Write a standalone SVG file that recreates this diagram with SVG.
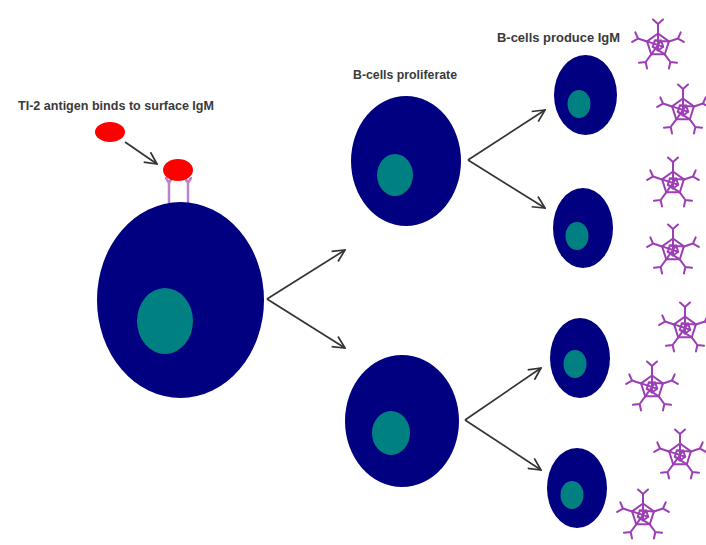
<svg xmlns="http://www.w3.org/2000/svg" xmlns:xlink="http://www.w3.org/1999/xlink" width="706" height="545" viewBox="0 0 706 545">
  <style>
    .cell { fill: #000080; }
    .nucleus { fill: #008080; }
    .antigen { fill: #ff0000; }
    .label { font-family: "Liberation Sans", Arial, sans-serif; font-size: 12px; font-weight: bold; fill: #3a3a3a; }
    .arrow { fill: none; stroke: #333333; stroke-width: 1.7; marker-end: url(#head); }
    .igm { fill: none; stroke: #9c3fb4; stroke-width: 2; stroke-linecap: round; stroke-linejoin: round; }
    .bcr { fill: none; stroke: #c080d0; stroke-width: 2.5; stroke-linecap: round; }
  </style>
  <defs>
    <marker id="head" viewBox="0 0 14 14" refX="13" refY="7" markerWidth="14" markerHeight="14" markerUnits="userSpaceOnUse" orient="auto">
      <path d="M1,1 L13,7 L1,13" fill="none" stroke="#333333" stroke-width="1.7"/>
    </marker>
    <!-- one arm: stalk from a pentagon vertex ending in a Y fork -->
    <g id="arm">
      <path d="M0,-11.5 L0,-21 M0,-21 L-5,-25.5 M0,-21 L5,-25.5"/>
    </g>
    <!-- pentameric IgM: pentagon core with five Y-shaped arms -->
    <g id="igm" class="igm">
      <polygon points="0,-11.5 10.9,-3.6 6.8,9.3 -6.8,9.3 -10.9,-3.6"/>
      <polygon points="0,5.5 -5.2,1.7 -3.2,-4.4 3.2,-4.4 5.2,1.7"/>
      <path d="M0,-11.5 L0,5.5 M10.9,-3.6 L-3.2,-4.4 M6.8,9.3 L-5.2,1.7 M-6.8,9.3 L3.2,-4.4 M-10.9,-3.6 L5.2,1.7"/>
      <use xlink:href="#arm"/>
      <use xlink:href="#arm" transform="rotate(72)"/>
      <use xlink:href="#arm" transform="rotate(144)"/>
      <use xlink:href="#arm" transform="rotate(216)"/>
      <use xlink:href="#arm" transform="rotate(288)"/>
    </g>
  </defs>

  <rect width="706" height="545" fill="#ffffff"/>

  <!-- labels -->
  <text class="label" x="18" y="110" textLength="196" lengthAdjust="spacingAndGlyphs">TI-2 antigen binds to surface IgM</text>
  <text class="label" x="353" y="79" textLength="104" lengthAdjust="spacingAndGlyphs">B-cells proliferate</text>
  <text class="label" x="497" y="42" textLength="123" lengthAdjust="spacingAndGlyphs">B-cells produce IgM</text>

  <!-- connectors -->
  <g id="connectors">
    <line class="arrow" x1="125" y1="142" x2="157" y2="164"/>
    <line class="arrow" x1="267" y1="299" x2="345" y2="250"/>
    <line class="arrow" x1="267" y1="299" x2="345" y2="348"/>
    <line class="arrow" x1="468" y1="160" x2="545" y2="110"/>
    <line class="arrow" x1="468" y1="160" x2="545" y2="208"/>
    <line class="arrow" x1="465" y1="420" x2="541" y2="368"/>
    <line class="arrow" x1="465" y1="420" x2="541" y2="470"/>
  </g>

  <!-- free antigen -->
  <g id="antigen-free">
    <ellipse class="antigen" cx="110" cy="132" rx="15" ry="10"/>
  </g>

  <!-- naive B-cell with surface IgM receptors and bound antigen -->
  <g id="bcell-naive">
    <path class="bcr" d="M169,203 L169,183 M169,183 L166,178 M169,183 L172,178 M188,203 L188,183 M188,183 L185,178 M188,183 L191,178"/>
    <ellipse class="antigen" cx="178" cy="170" rx="15" ry="11"/>
    <ellipse class="cell" cx="180.5" cy="300" rx="83.5" ry="98"/>
    <ellipse class="nucleus" cx="165" cy="321" rx="28" ry="33"/>
  </g>

  <!-- proliferating B-cells -->
  <g id="bcell-upper">
    <ellipse class="cell" cx="406" cy="161" rx="55" ry="65"/>
    <ellipse class="nucleus" cx="395" cy="175" rx="18" ry="21"/>
  </g>
  <g id="bcell-lower">
    <ellipse class="cell" cx="402" cy="421" rx="57" ry="66"/>
    <ellipse class="nucleus" cx="391" cy="433" rx="19" ry="22"/>
  </g>

  <!-- plasma cells -->
  <g id="plasma-1">
    <ellipse class="cell" cx="585.5" cy="95" rx="31.5" ry="40"/>
    <ellipse class="nucleus" cx="579" cy="104" rx="11.5" ry="14"/>
  </g>
  <g id="plasma-2">
    <ellipse class="cell" cx="583" cy="228" rx="30" ry="40"/>
    <ellipse class="nucleus" cx="577" cy="236" rx="11.5" ry="14"/>
  </g>
  <g id="plasma-3">
    <ellipse class="cell" cx="580" cy="358" rx="30" ry="40"/>
    <ellipse class="nucleus" cx="575" cy="364" rx="11.5" ry="14"/>
  </g>
  <g id="plasma-4">
    <ellipse class="cell" cx="577" cy="488" rx="30" ry="40"/>
    <ellipse class="nucleus" cx="572" cy="495" rx="11.5" ry="14"/>
  </g>

  <!-- secreted IgM pentamers -->
  <g id="igm-1"><use xlink:href="#igm" x="658" y="45"/></g>
  <g id="igm-2"><use xlink:href="#igm" x="683" y="110"/></g>
  <g id="igm-3"><use xlink:href="#igm" x="673" y="183"/></g>
  <g id="igm-4"><use xlink:href="#igm" x="673" y="250"/></g>
  <g id="igm-5"><use xlink:href="#igm" x="685" y="328"/></g>
  <g id="igm-6"><use xlink:href="#igm" x="652" y="387"/></g>
  <g id="igm-7"><use xlink:href="#igm" x="680" y="455"/></g>
  <g id="igm-8"><use xlink:href="#igm" x="643" y="515"/></g>
</svg>
